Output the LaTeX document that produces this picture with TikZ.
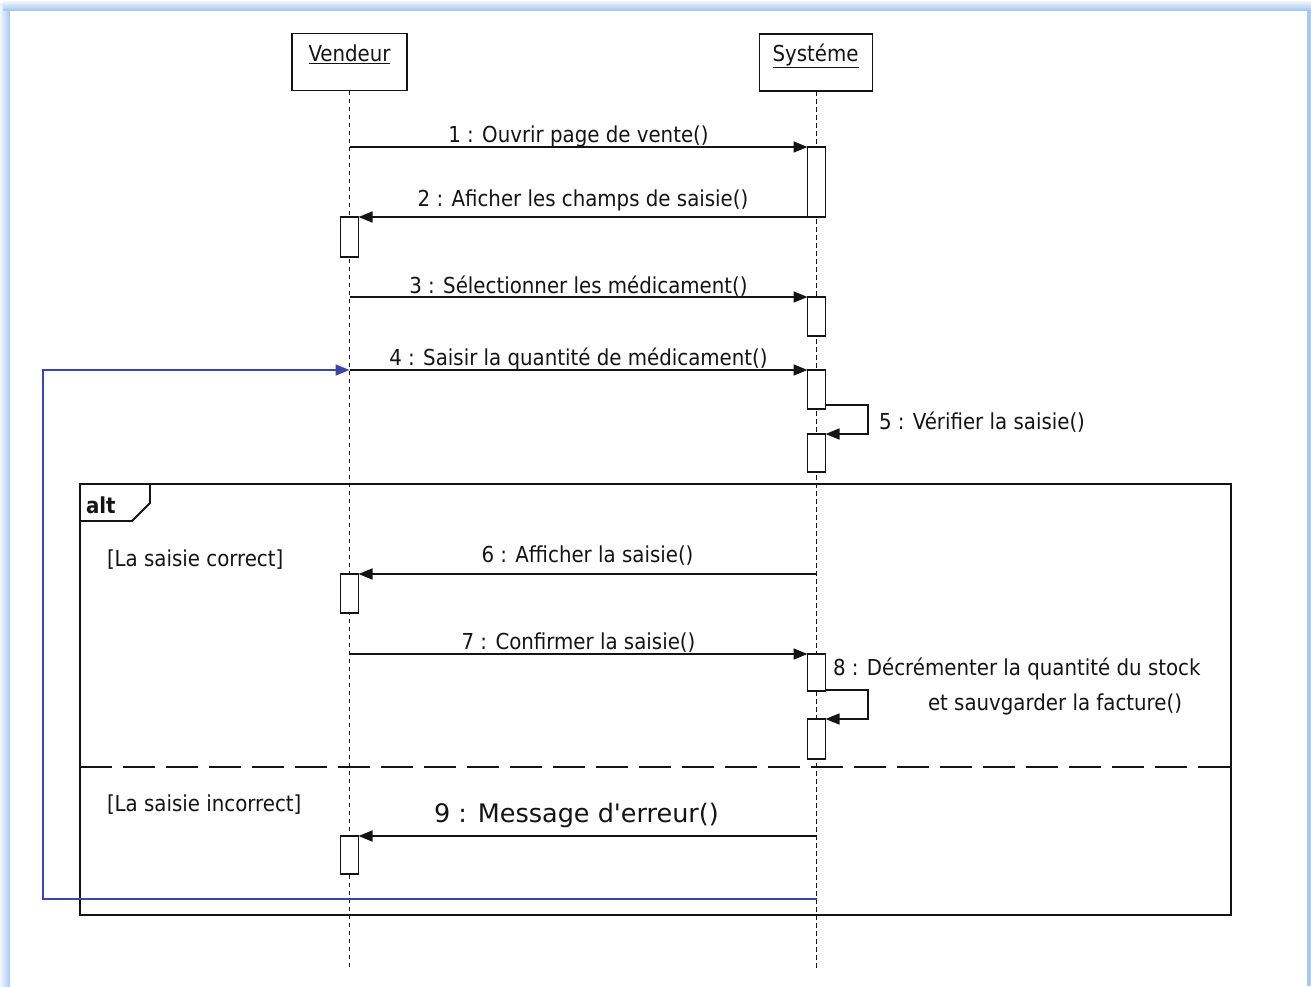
\documentclass[tikz,border=0pt]{standalone}
\usepackage{fontspec}
\setmainfont{DejaVu Sans Condensed}
\newfontfamily\widefont{DejaVu Sans}
\usetikzlibrary{arrows.meta}
\definecolor{winframe}{HTML}{A8C8F2}
\definecolor{loopblue}{HTML}{3F44A8}
\definecolor{ink}{HTML}{141414}

\begin{document}
\begin{tikzpicture}[x=1pt,y=-1pt,
  every node/.style={inner sep=0pt,outer sep=0pt},
  txt/.style={font=\fontsize{22}{26}\selectfont,text=ink},
  actorbox/.style={draw=ink,line width=1.8pt,fill=white,minimum width=#1,minimum height=57pt},
  lifeline/.style={draw=ink,line width=1.5pt,dash pattern=on 4.5pt off 3.5pt},
  actbar/.style={draw=ink,line width=1.6pt,fill=white,minimum width=18pt,minimum height=#1,anchor=north},
  msg/.style={draw=ink,line width=1.6pt,-{Triangle[length=14pt,width=11pt]}},
  loopmsg/.style={draw=loopblue,line width=1.6pt,-{Triangle[length=14pt,width=11pt]}},
  frag/.style={draw=ink,line width=1.8pt},
  guardsep/.style={draw=ink,line width=1.8pt,dash pattern=on 32pt off 11pt},
]
\useasboundingbox (0,0) rectangle (1311,986);
\fill[white] (0,0) rectangle (1311,986);
% window border
\shade[left color=winframe!15,right color=winframe] (0,3) rectangle (10,986);
\shade[top color=winframe!15,bottom color=winframe] (3,1) rectangle (1311,10);
\fill[winframe] (1306.5,10) rectangle (1311,986);

% combined fragment
\node[frag,minimum width=1151pt,minimum height=431pt,anchor=north west] (alt) at (80,484) {};
\draw[frag] ([xshift=70pt]alt.north west) -- ++(0,19) -- ++(-18,18) -- ++(-52,0);
\node[font=\bfseries\fontsize{22}{26}\selectfont,text=ink,anchor=base west] (altT) at (86,513) {alt};
\node[txt,anchor=base west] (g1) at (107,566) {[La saisie correct]};
\node[txt,anchor=base west] (g2) at (107,811) {[La saisie incorrect]};
\coordinate (sepL) at (80,767);
\coordinate (sepR) at (1231,767);
\draw[guardsep] (sepL) -- (sepR);

% lifelines
\node[actorbox=115pt] (vend) at (349.5,62) {};
\node[actorbox=113pt] (sys) at (816,62.5) {};
\node[txt,anchor=base] (vendT) at (349.5,61) {\underline{Vendeur}};
\node[txt,anchor=base] (sysT) at (815.5,61) {\underline{Systéme}};
\coordinate (vendEnd) at (349.5,970);
\coordinate (sysEnd) at (816.5,970);
\draw[lifeline] (vend.south) -- (vendEnd);
\draw[lifeline] (sys.south -| sysEnd) -- (sysEnd);

% activation bars
\node[actbar=70pt] (a1) at (816.5,147) {};
\node[actbar=39pt] (a3) at (816.5,297) {};
\node[actbar=39pt] (a4) at (816.5,370) {};
\node[actbar=38pt] (a5) at (816.5,434) {};
\node[actbar=37pt] (a7) at (816.5,654) {};
\node[actbar=40pt] (a8) at (816.5,719) {};
\node[actbar=40pt] (b2) at (349.5,217) {};
\node[actbar=39pt] (b6) at (349.5,574) {};
\node[actbar=38pt] (b9) at (349.5,836) {};

% messages
\coordinate (m1) at (349.5,147);
\coordinate (m3) at (349.5,297);
\coordinate (m4) at (349.5,370);
\coordinate (m6) at (816.5,574);
\coordinate (m7) at (349.5,654);
\coordinate (m9) at (816.5,836);
\coordinate (r5) at (868,405);
\coordinate (r8) at (868,690);

\draw[msg] (m1) -- node[txt,above=0pt] (l1) {1 : Ouvrir page de vente()} (a1.north west);
\draw[msg] (a1.south west) -- node[txt,above=6pt] (l2) {2 : Aficher les champs de saisie()} (b2.north east);
\draw[msg] (m3) -- node[txt,above=1pt] (l3) {3 : Sélectionner les médicament()} (a3.north west);
\draw[msg] (m4) -- node[txt,above=0pt] (l4) {4 : Saisir la quantité de médicament()} (a4.north west);
\draw[msg] (a4.east |- r5) -- (r5) |- (a5.north east);
\node[txt,anchor=base west] (l5) at (879,429) {5 : Vérifier la saisie()};
\draw[msg] (m6) -- node[txt,above=9pt] (l6) {6 : Afficher la saisie()} (b6.north east);
\draw[msg] (m7) -- node[txt,above=2pt] (l7) {7 : Confirmer la saisie()} (a7.north west);
\draw[msg] (a7.east |- r8) -- (r8) |- (a8.north east);
\node[txt,anchor=base west] (l8a) at (833,675) {8 : Décrémenter la quantité du stock};
\node[txt,anchor=base west] (l8b) at (928,710) {et sauvgarder la facture()};
\draw[msg] (m9) -- node[font=\widefont\fontsize{25.5}{30}\selectfont,text=ink,above=8pt,xshift=-11pt] (l9) {9 : Message d'erreur()} (b9.north east);

% loop back to the quantity entry
\coordinate (s10) at (816.5,899);
\coordinate (lp) at (43,370);
\draw[loopmsg] (s10) -| (lp) -- (m4);
\end{tikzpicture}
\end{document}
